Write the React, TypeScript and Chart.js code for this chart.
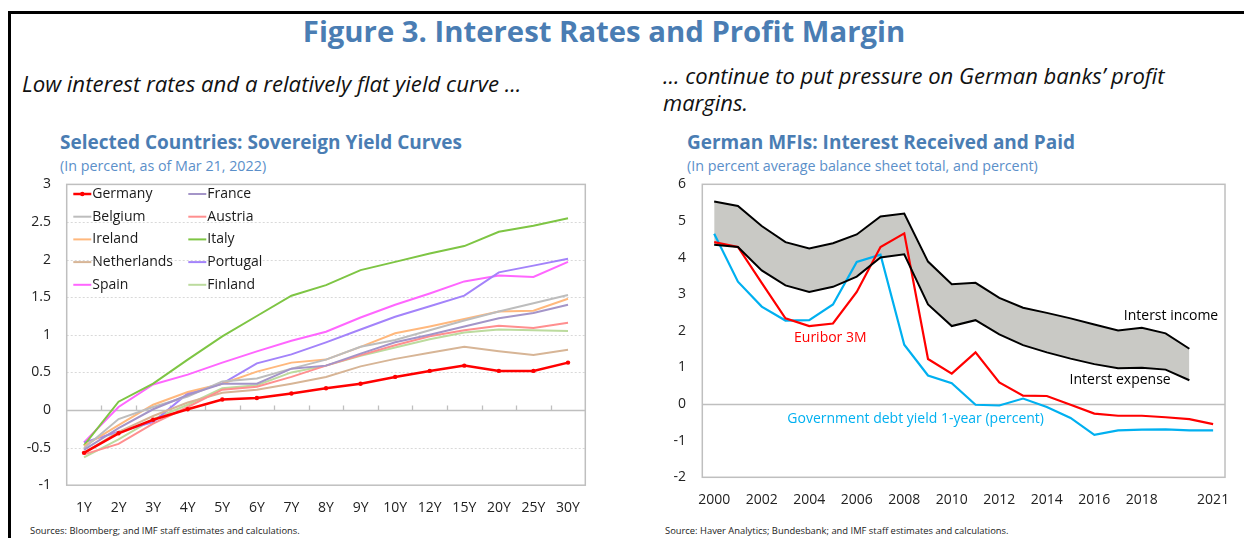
import React, { useEffect, useRef } from "react";
import { Chart, registerables } from "chart.js";

Chart.register(...registerables);

// ---------- Left chart data ----------
const maturities = ["1Y", "2Y", "3Y", "4Y", "5Y", "6Y", "7Y", "8Y", "9Y", "10Y", "12Y", "15Y", "20Y", "25Y", "30Y"];
const germany = [-0.57, -0.31, -0.13, 0.01, 0.14, 0.16, 0.22, 0.29, 0.35, 0.44, 0.52, 0.59, 0.52, 0.52, 0.63];
const france = [-0.53, -0.24, 0.01, 0.2, 0.35, 0.35, 0.55, 0.59, 0.75, 0.9, 1.0, 1.11, 1.22, 1.29, 1.4];
const belgium = [-0.51, -0.12, 0.04, 0.18, 0.38, 0.42, 0.55, 0.67, 0.84, 0.93, 1.06, 1.19, 1.31, 1.42, 1.53];
const austria = [-0.59, -0.45, -0.18, 0.04, 0.27, 0.31, 0.44, 0.59, 0.73, 0.86, 0.98, 1.06, 1.12, 1.09, 1.16];
const ireland = [-0.48, -0.2, 0.07, 0.24, 0.35, 0.51, 0.63, 0.67, 0.84, 1.02, 1.11, 1.21, 1.31, 1.32, 1.48];
const italy = [-0.47, 0.11, 0.35, 0.67, 0.98, 1.25, 1.52, 1.66, 1.86, 1.97, 2.08, 2.18, 2.37, 2.45, 2.55];
const netherlands = [-0.57, -0.29, -0.08, 0.1, 0.23, 0.27, 0.35, 0.44, 0.58, 0.68, 0.76, 0.84, 0.78, 0.73, 0.8];
const portugal = [-0.43, -0.29, -0.16, 0.22, 0.35, 0.62, 0.74, 0.9, 1.07, 1.24, 1.38, 1.52, 1.83, 1.92, 2.01];
const spain = [-0.43, 0.04, 0.34, 0.47, 0.63, 0.78, 0.92, 1.04, 1.23, 1.4, 1.55, 1.71, 1.79, 1.77, 1.97];
const finland = [-0.63, -0.39, -0.12, 0.07, 0.29, 0.33, 0.5, 0.59, 0.72, 0.83, 0.94, 1.03, 1.07, 1.06, 1.05];
const leftTicks = { min: -1, max: 3, step: 0.5 };

// ---------- Right chart data ----------
const years = ["2000", "2001", "2002", "2003", "2004", "2005", "2006", "2007", "2008", "2009", "2010", "2011", "2012", "2013", "2014", "2015", "2016", "2017", "2018", "2019", "2020", "2021"];
const interestIncome = [5.53, 5.41, 4.86, 4.42, 4.25, 4.39, 4.63, 5.12, 5.2, 3.89, 3.27, 3.31, 2.9, 2.63, 2.49, 2.34, 2.17, 2.01, 2.08, 1.93, 1.51, null];
const interestExpense = [4.35, 4.29, 3.65, 3.24, 3.06, 3.2, 3.48, 4.0, 4.09, 2.72, 2.13, 2.29, 1.9, 1.61, 1.41, 1.24, 1.09, 0.98, 0.99, 0.94, 0.65, null];
const euribor3M = [4.42, 4.29, 3.31, 2.34, 2.13, 2.2, 3.06, 4.29, 4.66, 1.23, 0.83, 1.41, 0.59, 0.23, 0.22, -0.02, -0.26, -0.32, -0.32, -0.36, -0.41, -0.55];
const govYield1Y = [4.65, 3.34, 2.66, 2.28, 2.29, 2.72, 3.88, 4.08, 1.62, 0.78, 0.57, -0.02, -0.04, 0.15, -0.08, -0.38, -0.84, -0.72, -0.7, -0.69, -0.72, -0.72];
const shownYearLabels = ["2000", "2002", "2004", "2006", "2008", "2010", "2012", "2014", "2016", "2018", "2021"];
const rightTicks = { min: -2, max: 6, step: 1 };

const FONT = "'Open Sans', 'Noto Sans', sans-serif";
const BLUE = "#4A7DB3";
const LIGHT_BLUE = "#5B8FC9";
const AXIS_GRAY = "#BFBFBF";

function plotDecor(opts: { dotted: boolean; zeroTicks: boolean }) {
  return {
    id: "plotDecor",
    beforeDatasetsDraw(chart: any) {
      const { ctx, chartArea: a, scales } = chart;
      const y = scales.y;
      const x = scales.x;
      ctx.save();
      if (opts.dotted) {
        ctx.strokeStyle = "#D9D9D9";
        ctx.lineWidth = 1;
        ctx.setLineDash([2, 2]);
        y.ticks.forEach((t: any) => {
          if (t.value === 0 || t.value === y.min || t.value === y.max) return;
          const py = Math.round(y.getPixelForValue(t.value)) + 0.5;
          ctx.beginPath();
          ctx.moveTo(a.left, py);
          ctx.lineTo(a.right, py);
          ctx.stroke();
        });
        ctx.setLineDash([]);
      }
      const zy = Math.round(y.getPixelForValue(0)) + 0.5;
      ctx.strokeStyle = AXIS_GRAY;
      ctx.lineWidth = 1.3;
      ctx.beginPath();
      ctx.moveTo(a.left, zy);
      ctx.lineTo(a.right, zy);
      ctx.stroke();
      if (opts.zeroTicks) {
        const n = x.getLabels().length;
        for (let i = 0; i < n - 1; i++) {
          const bx = Math.round((x.getPixelForValue(i) + x.getPixelForValue(i + 1)) / 2) + 0.5;
          ctx.beginPath();
          ctx.moveTo(bx, zy);
          ctx.lineTo(bx, zy - 5);
          ctx.stroke();
        }
      }
      ctx.lineWidth = 1.5;
      ctx.strokeRect(a.left, a.top, a.right - a.left, a.bottom - a.top);
      ctx.restore();
    },
  };
}

const legendPlugin = {
  id: "gridLegend",
  afterDatasetsDraw(chart: any) {
    const { ctx, chartArea: a } = chart;
    ctx.save();
    ctx.font = `14px ${FONT}`;
    ctx.textBaseline = "middle";
    ctx.textAlign = "left";
    chart.data.datasets.forEach((ds: any, i: number) => {
      const col = i % 2;
      const row = Math.floor(i / 2);
      const lx = a.left + 6.6 + col * 115;
      const ly = a.top + 9.6 + row * 22.7;
      ctx.strokeStyle = ds.borderColor;
      ctx.lineWidth = ds.borderWidth;
      ctx.beginPath();
      ctx.moveTo(lx, ly);
      ctx.lineTo(lx + 18, ly);
      ctx.stroke();
      if (ds.pointRadius > 0) {
        ctx.fillStyle = ds.pointBackgroundColor;
        ctx.beginPath();
        ctx.arc(lx + 9, ly, ds.pointRadius, 0, Math.PI * 2);
        ctx.fill();
      }
      ctx.fillStyle = "#1A1A1A";
      ctx.fillText(ds.label, lx + 19, ly);
    });
    ctx.restore();
  },
};

const annotations = [
  { text: "Euribor 3M", x: 3.36, y: 1.81, color: "#FF0000" },
  { text: "Government debt yield 1-year (percent)", x: 3.08, y: -0.41, color: "#00B0F0" },
  { text: "Interst income", x: 17.24, y: 2.41, color: "#000000" },
  { text: "Interst expense", x: 14.96, y: 0.66, color: "#000000" },
];

const annotationPlugin = {
  id: "annots",
  afterDatasetsDraw(chart: any) {
    const { ctx, scales } = chart;
    ctx.save();
    ctx.font = `14px ${FONT}`;
    ctx.textBaseline = "middle";
    ctx.textAlign = "left";
    annotations.forEach((an) => {
      ctx.fillStyle = an.color;
      ctx.fillText(an.text, scales.x.getPixelForValue(an.x), scales.y.getPixelForValue(an.y));
    });
    ctx.restore();
  },
};

const plainNum = (v: any) => `${Number(v)}`;
const fixY = (w: number) => (s: any) => {
  s.width = w;
  s.paddingTop = 0;
  s.paddingBottom = 0;
};
const fixX = (h: number) => (s: any) => {
  s.height = h;
  s.paddingLeft = 0;
  s.paddingRight = 0;
};

function LeftChart() {
  const ref = useRef<HTMLCanvasElement>(null);
  useEffect(() => {
    const mk = (label: string, data: number[], color: string, w = 2) => ({
      label,
      data,
      borderColor: color,
      backgroundColor: color,
      borderWidth: w,
      pointRadius: 0,
      pointHoverRadius: 0,
      pointBackgroundColor: color,
      tension: 0,
    });
    const chart = new Chart(ref.current!, {
      type: "line",
      data: {
        labels: maturities,
        datasets: [
          { ...mk("Germany", germany, "#FF0000", 2.5), pointRadius: 2.2, pointBorderWidth: 0, pointStyle: "circle" },
          mk("France", france, "#A495C8"),
          mk("Belgium", belgium, "#BDBDBD"),
          mk("Austria", austria, "#FF8F8F"),
          mk("Ireland", ireland, "#FFB87D"),
          mk("Italy", italy, "#7EC544"),
          mk("Netherlands", netherlands, "#D7B596"),
          mk("Portugal", portugal, "#A383FA"),
          mk("Spain", spain, "#FF66FF"),
          mk("Finland", finland, "#BCDB9E"),
        ] as any,
      },
      options: {
        responsive: false,
        animation: false,
        devicePixelRatio: 1,
        layout: { padding: { top: 14.4, right: 9.7, left: 0, bottom: 0 } },
        plugins: { legend: { display: false }, tooltip: { enabled: false } },
        scales: {
          x: {
            type: "category",
            offset: true,
            grid: { display: false, drawTicks: false },
            border: { display: false },
            ticks: { color: "#222", font: { family: FONT, size: 14 }, padding: 14.6, autoSkip: false, maxRotation: 0 },
            afterFit: fixX(34.8),
          },
          y: {
            min: leftTicks.min,
            max: leftTicks.max,
            grid: { display: false, drawTicks: false },
            border: { display: false },
            ticks: { stepSize: leftTicks.step, color: "#222", font: { family: FONT, size: 14 }, padding: 15.7, callback: plainNum },
            afterFit: fixY(56.7),
          },
        },
      } as any,
      plugins: [plotDecor({ dotted: true, zeroTicks: true }), legendPlugin],
    });
    return () => chart.destroy();
  }, []);
  return <canvas ref={ref} width={585} height={350} style={{ position: "absolute", left: 10, top: 170 }} />;
}

function RightChart() {
  const ref = useRef<HTMLCanvasElement>(null);
  useEffect(() => {
    const chart = new Chart(ref.current!, {
      type: "line",
      data: {
        labels: years,
        datasets: [
          { label: "Interest income", data: interestIncome, borderColor: "#000", borderWidth: 2, pointRadius: 0, fill: "+1", backgroundColor: "#C9C9C5", tension: 0 },
          { label: "Interest expense", data: interestExpense, borderColor: "#000", borderWidth: 2, pointRadius: 0, fill: false, tension: 0 },
          { label: "Euribor 3M", data: euribor3M, borderColor: "#FF0000", borderWidth: 2.2, pointRadius: 0, fill: false, tension: 0 },
          { label: "Government debt yield 1-year (percent)", data: govYield1Y, borderColor: "#00B0F0", borderWidth: 2.2, pointRadius: 0, fill: false, tension: 0 },
        ] as any,
      },
      options: {
        responsive: false,
        animation: false,
        devicePixelRatio: 1,
        layout: { padding: { top: 14.3, right: 15, left: 0, bottom: 0 } },
        plugins: { legend: { display: false }, tooltip: { enabled: false }, filler: { drawTime: "beforeDatasetsDraw" } },
        scales: {
          x: {
            type: "category",
            offset: true,
            grid: { display: false, drawTicks: false },
            border: { display: false },
            ticks: {
              color: "#222",
              font: { family: FONT, size: 14 },
              padding: 14.3,
              autoSkip: false,
              maxRotation: 0,
              callback: (_v: any, i: number) => (shownYearLabels.includes(years[i]) ? years[i] : ""),
            },
            afterFit: fixX(42.7),
          },
          y: {
            min: rightTicks.min,
            max: rightTicks.max,
            grid: { display: false, drawTicks: false },
            border: { display: false },
            ticks: { stepSize: rightTicks.step, color: "#222", font: { family: FONT, size: 14 }, padding: 16.3, callback: plainNum },
            afterFit: fixY(62.3),
          },
        },
      } as any,
      plugins: [plotDecor({ dotted: false, zeroTicks: false }), annotationPlugin],
    });
    return () => chart.destroy();
  }, []);
  return <canvas ref={ref} width={600} height={350} style={{ position: "absolute", left: 640, top: 170 }} />;
}

const txt = (extra: React.CSSProperties): React.CSSProperties => ({
  position: "absolute",
  fontFamily: FONT,
  whiteSpace: "nowrap",
  margin: 0,
  lineHeight: 1,
  ...extra,
});

export default function App() {
  return (
    <div style={{ position: "fixed", left: 0, top: 0, width: 1244, height: 538, background: "#fff", overflow: "hidden" }}>
      <div style={{ position: "absolute", left: 8, top: 11, width: 1300, height: 600, borderTop: "3px solid #000", borderLeft: "3px solid #000" }} />
      <div style={txt({ left: 0, width: 1208, top: 17, textAlign: "center", fontSize: 29.3, fontWeight: 700, color: BLUE })}>
        Figure 3. Interest Rates and Profit Margin
      </div>
      <div style={txt({ left: 22, top: 73, fontSize: 22.2, fontStyle: "italic", color: "#111" })}>
        Low interest rates and a relatively flat yield curve ...
      </div>
      <div style={txt({ left: 663, top: 62, fontSize: 22, fontStyle: "italic", color: "#111", lineHeight: "27px" })}>
        ... continue to put pressure on German banks’ profit
        <br />
        margins.
      </div>
      <div style={txt({ left: 60, top: 133, fontSize: 19, fontWeight: 700, color: BLUE })}>
        Selected Countries: Sovereign Yield Curves
      </div>
      <div style={txt({ left: 60, top: 159, fontSize: 14.3, color: LIGHT_BLUE })}>(In percent, as of Mar 21, 2022)</div>
      <div style={txt({ left: 687, top: 133, fontSize: 19, fontWeight: 700, color: BLUE })}>
        German MFIs: Interest Received and Paid
      </div>
      <div style={txt({ left: 687, top: 159, fontSize: 14.3, color: LIGHT_BLUE })}>
        (In percent average balance sheet total, and percent)
      </div>
      <LeftChart />
      <RightChart />
      <div style={txt({ left: 30, top: 525.5, fontSize: 9.4, color: "#222" })}>
        Sources: Bloomberg; and IMF staff estimates and calculations.
      </div>
      <div style={txt({ left: 665, top: 525.5, fontSize: 9.4, color: "#222" })}>
        Source: Haver Analytics; Bundesbank; and IMF staff estimates and calculations.
      </div>
    </div>
  );
}
